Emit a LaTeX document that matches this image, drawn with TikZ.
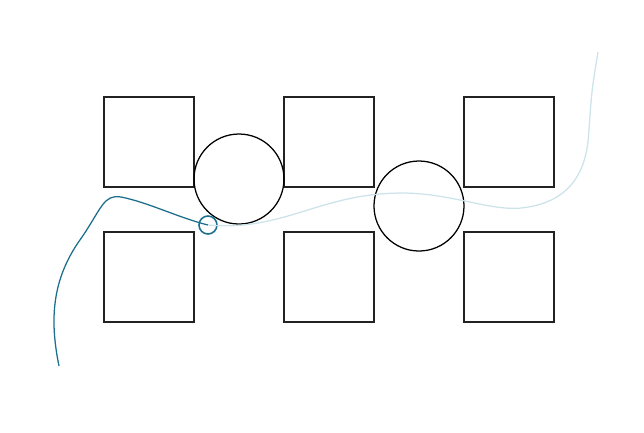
\documentclass[tikz,border=0pt]{standalone}
\usepackage{xcolor}
\definecolor{trail}{HTML}{1B6F8C}
\definecolor{ahead}{HTML}{CDE3EA}
\definecolor{wall}{HTML}{222222}

\begin{document}
\begin{tikzpicture}[
    box/.style={draw=wall, line width=0.8pt, minimum size=2cm, inner sep=0pt},
    ring/.style={draw=black, circle, line width=0.8pt, minimum size=2cm, inner sep=0pt},
    marker/.style={draw=trail, circle, line width=1pt, minimum size=0.4cm, inner sep=0pt},
    pathdone/.style={draw=trail, line width=0.8pt},
    pathtodo/.style={draw=ahead, line width=0.8pt}
]
    \useasboundingbox (0,0) rectangle (14.311,9.6);

    % obstacles
    \foreach \x/\n in {3.311/a, 7.311/b, 11.311/c}
    {
        \node[box] (top\n) at (\x,6.444) {};
        \node[box] (bot\n) at (\x,3.444) {};
    }
    \node[ring] (obs1) at (5.311,5.622) {};
    \node[ring] (obs2) at (9.311,5.022) {};

    % robot
    \node[marker] (pos) at (4.622,4.6) {};
    \coordinate (start) at (1.311,1.467);
    \coordinate (goal) at (13.289,8.444);

    % travelled and planned path
    \draw[pathdone] (start) .. controls (1.1,2.5) and (1.15,3.4) .. (1.8,4.3)
        .. controls (2.25,4.95) and (2.3,5.3) .. (2.7,5.22)
        .. controls (3.3,5.1) and (4.0,4.75) .. (pos.center);
    \draw[pathtodo] (pos.center) .. controls (6.3,4.45) and (7.1,5.3) .. (8.9,5.31)
        .. controls (10.0,5.32) and (10.9,4.9) .. (11.6,4.98)
        .. controls (12.3,5.06) and (13.0,5.4) .. (13.08,6.6)
        .. controls (13.15,7.6) .. (goal);
\end{tikzpicture}
\end{document}
